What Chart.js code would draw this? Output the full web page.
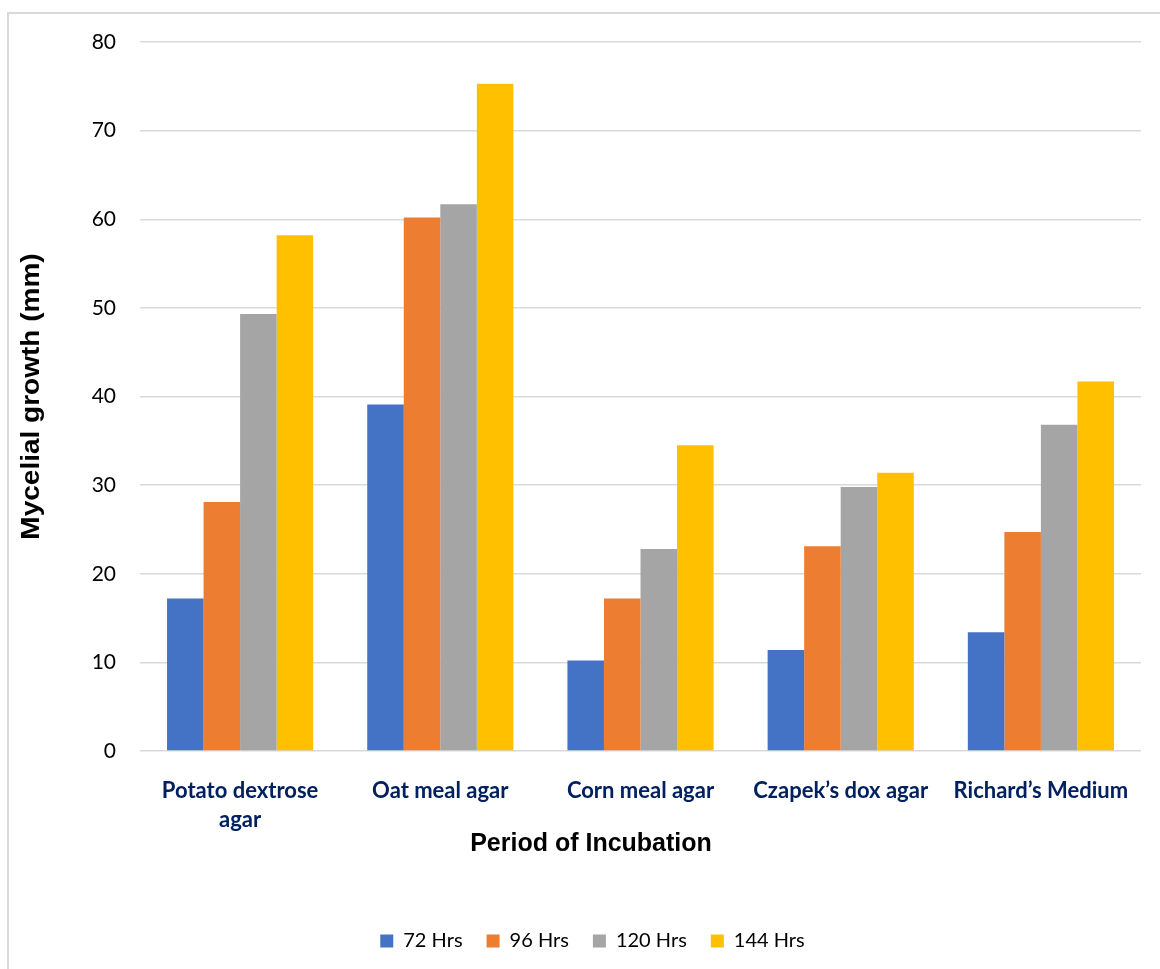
<!DOCTYPE html>
<html>
<head>
<meta charset="utf-8">
<script src="https://cdn.jsdelivr.net/npm/chart.js@4.4.1/dist/chart.umd.min.js"></script>
<style>
  html, body { margin: 0; padding: 0; background: #ffffff; overflow: hidden; }
  #wrap { position: relative; width: 1160px; height: 969px; }
  #frame { position: absolute; left: 7px; top: 12px; width: 1200px; height: 1000px;
           border-left: 2px solid #d9d9d9; border-top: 2px solid #d9d9d9; pointer-events: none; }
  canvas { position: absolute; left: 0; top: 0; }
</style>
</head>
<body>
<div id="wrap">
  <canvas id="chart" width="1160" height="969"></canvas>
  <div id="frame"></div>
</div>
<script>
// Culture media on the x axis
const categories = [
  ["Potato dextrose", "agar"],
  "Oat meal agar",
  "Corn meal agar",
  "Czapek\u2019s dox agar",
  "Richard\u2019s Medium"
];

// Mycelial growth (mm) per incubation period
const hrs72  = [17.2, 39.1, 10.2, 11.4, 13.4];
const hrs96  = [28.1, 60.2, 17.2, 23.1, 24.7];
const hrs120 = [49.3, 61.7, 22.8, 29.8, 36.8];
const hrs144 = [58.2, 75.3, 34.5, 31.4, 41.7];

const seriesNames = ["72 Hrs", "96 Hrs", "120 Hrs", "144 Hrs"];
const seriesColors = ["#4472C4", "#ED7D31", "#A5A5A5", "#FFC000"];

const yTicks = { min: 0, max: 80, step: 10 };

const xAxisTitle = "Period of Incubation";
const yAxisTitle = "Mycelial growth (mm)";

// Axis titles: x title under the category labels, y title rotated at the left edge
const axisTitlePlugin = {
  id: 'axisTitles',
  afterDraw(chart) {
    const ctx = chart.ctx;
    const xs = chart.scales.x;
    const area = chart.chartArea;
    ctx.save();
    ctx.font = "bold 25px 'Liberation Sans', Arial, sans-serif";
    ctx.fillStyle = "#000000";
    ctx.textAlign = "center";
    ctx.textBaseline = "middle";
    ctx.fillText(xAxisTitle, chart.width / 2 + 11, xs.top + 93);
    ctx.restore();

    ctx.save();
    ctx.translate(32, (area.top + area.bottom) / 2);
    ctx.rotate(-Math.PI / 2);
    ctx.scale(1.12, 1);
    ctx.font = "bold 25px 'Liberation Sans', Arial, sans-serif";
    ctx.fillStyle = "#000000";
    ctx.textAlign = "center";
    ctx.textBaseline = "middle";
    ctx.fillText(yAxisTitle, 0, 0);
    ctx.restore();
  }
};

// Nudges the legend so it sits under the axis title
const legendShift = {
  id: 'legendShift',
  afterLayout(chart) {
    const lg = chart.legend;
    if (!lg) return;
    lg.left += 22; lg.right += 22;
    lg.top -= 8; lg.bottom -= 8;
  }
};

const datasets = [hrs72, hrs96, hrs120, hrs144].map((vals, i) => ({
  label: seriesNames[i],
  data: vals,
  backgroundColor: seriesColors[i],
  borderWidth: 0,
  categoryPercentage: 0.73,
  barPercentage: 1.0
}));

new Chart(document.getElementById('chart'), {
  type: 'bar',
  data: { labels: categories, datasets },
  plugins: [axisTitlePlugin, legendShift],
  options: {
    responsive: false,
    animation: false,
    devicePixelRatio: 1,
    layout: { padding: { left: 0, right: 19, top: 42, bottom: 0 } },
    plugins: {
      tooltip: { enabled: false },
      legend: {
        position: 'bottom',
        labels: {
          boxWidth: 13,
          boxHeight: 13,
          padding: 24,
          color: '#000000',
          font: { family: "Lato, 'Open Sans', sans-serif", size: 20 }
        }
      }
    },
    scales: {
      x: {
        grid: { display: false, drawTicks: false },
        border: { display: false },
        ticks: {
          color: '#002060',
          padding: 25,
          maxRotation: 0,
          autoSkip: false,
          font: { family: "Lato, 'Open Sans', sans-serif", size: 22, weight: 'bold', lineHeight: 1.32 }
        },
        afterFit(scale) { scale.height = 164; }
      },
      y: {
        min: yTicks.min,
        max: yTicks.max,
        grid: { color: '#d9d9d9', lineWidth: 1.5, drawTicks: false },
        border: { display: false },
        ticks: {
          stepSize: yTicks.step,
          color: '#000000',
          padding: 24,
          font: { family: "Lato, 'Open Sans', sans-serif", size: 21 }
        },
        afterFit(scale) { scale.width = 140; }
      }
    }
  }
});
</script>
</body>
</html>
